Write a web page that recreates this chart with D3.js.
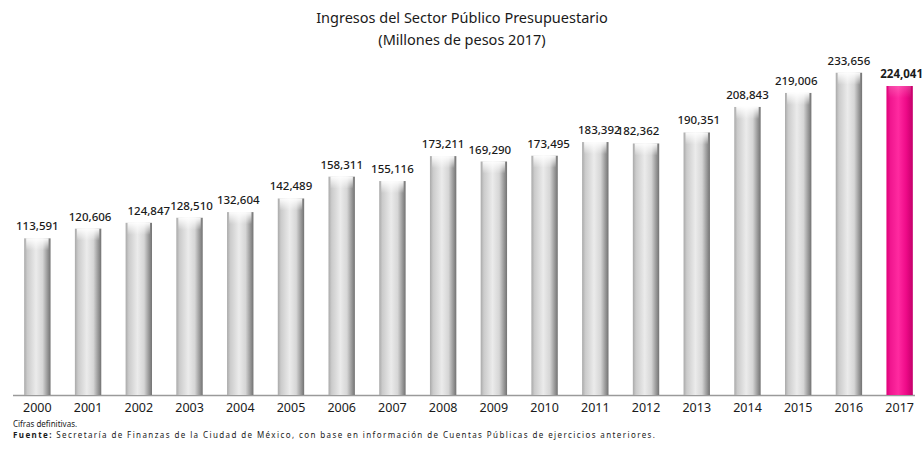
<!DOCTYPE html>
<html>
<head>
<meta charset="utf-8">
<script src="https://cdn.jsdelivr.net/npm/d3@7"></script>
<style>
  body { margin: 0; background: #fff; }
  text { font-family: "Noto Sans", Lato, sans-serif; }
</style>
</head>
<body>
<svg width="923" height="454"></svg>
<script>
var years = ["2000","2001","2002","2003","2004","2005","2006","2007","2008","2009","2010","2011","2012","2013","2014","2015","2016","2017"];
var ingresos = [113591,120606,124847,128510,132604,142489,158311,155116,173211,169290,173495,183392,182362,190351,208843,219006,233656,224041];
// small horizontal nudges of the value labels, as in the picture
var labelShift = [0,2,10,2,-2,0,0,0,0,-4,4,4,-8,2,0,-2,0,2];

var svg = d3.select("svg"),
    width = +svg.attr("width"),
    height = +svg.attr("height");

var baseY = 395;

var x = d3.scaleBand()
    .domain(years)
    .range([12, 925])
    .paddingInner(0.48)
    .paddingOuter(0.24);

var y = d3.scaleLinear()
    .domain([0, 224041])
    .range([baseY, 86]);

var defs = svg.append("defs");

function cylinder(id, stops) {
  var g = defs.append("linearGradient")
      .attr("id", id)
      .attr("x1", "0%").attr("x2", "100%")
      .attr("y1", "0%").attr("y2", "0%");
  stops.forEach(function(s) {
    g.append("stop").attr("offset", s[0]).attr("stop-color", s[1]);
  });
}
cylinder("grayBar", [["0%","#a9a9a9"],["12%","#cbcbcb"],["45%","#ebebeb"],["70%","#d6d6d6"],["86%","#a0a0a0"],["100%","#727272"]]);
cylinder("pinkBar", [["0%","#e0007a"],["15%","#f0168f"],["45%","#ff2aa0"],["75%","#ee0a88"],["100%","#c4006a"]]);

var cap = defs.append("linearGradient")
    .attr("id", "cap")
    .attr("x1", "0%").attr("x2", "0%")
    .attr("y1", "0%").attr("y2", "100%");
cap.append("stop").attr("offset", "0%").attr("stop-color", "#ffffff").attr("stop-opacity", 0.95);
cap.append("stop").attr("offset", "100%").attr("stop-color", "#ffffff").attr("stop-opacity", 0);

// title
svg.append("text")
    .attr("x", 462).attr("y", 23)
    .attr("text-anchor", "middle")
    .style("font-size", "14.5px")
    .style("fill", "#1a1a1a")
    .text("Ingresos del Sector Público Presupuestario");
svg.append("text")
    .attr("x", 462).attr("y", 45)
    .attr("text-anchor", "middle")
    .style("font-size", "14.5px")
    .style("fill", "#1a1a1a")
    .text("(Millones de pesos 2017)");

// baseline
svg.append("line")
    .attr("x1", 13).attr("x2", 915)
    .attr("y1", baseY + 0.5).attr("y2", baseY + 0.5)
    .attr("stroke", "#9a9a9a")
    .attr("stroke-width", 1.5);

var bars = svg.append("g").selectAll("g")
    .data(years)
    .enter().append("g");

bars.append("rect")
    .attr("x", function(d) { return x(d); })
    .attr("y", function(d, i) { return y(ingresos[i]); })
    .attr("width", x.bandwidth())
    .attr("height", function(d, i) { return baseY - y(ingresos[i]); })
    .attr("fill", function(d) { return d === "2017" ? "url(#pinkBar)" : "url(#grayBar)"; });

bars.append("rect")
    .attr("x", function(d) { return x(d) + 2; })
    .attr("y", function(d, i) { return y(ingresos[i]); })
    .attr("width", x.bandwidth() - 4)
    .attr("height", 12)
    .attr("fill", "url(#cap)")
    .attr("opacity", function(d) { return d === "2017" ? 0.2 : 1; });

// value labels
bars.append("text")
    .attr("x", function(d, i) { return x(d) + x.bandwidth() / 2 + labelShift[i]; })
    .attr("y", function(d, i) { return y(ingresos[i]) - 8; })
    .attr("text-anchor", "middle")
    .style("font-size", "11.5px")
    .style("font-weight", function(d) { return d === "2017" ? "bold" : "500"; })
    .style("fill", "#1a1a1a")
    .text(function(d, i) { return d3.format(",")(ingresos[i]); });

// year axis
var axis = svg.append("g")
    .attr("transform", "translate(0," + baseY + ")")
    .call(d3.axisBottom(x).tickSize(0).tickPadding(8));
axis.select(".domain").remove();
axis.selectAll("text")
    .style("font-family", "\"Noto Sans\", Lato, sans-serif")
    .style("font-size", "12.5px")
    .style("fill", "#1a1a1a");

// notes
svg.append("text")
    .attr("x", 13).attr("y", 427)
    .style("font-size", "8px")
    .style("fill", "#1a1a1a")
    .text("Cifras definitivas.");
var src = svg.append("text")
    .attr("x", 13).attr("y", 438)
    .style("font-size", "8px")
    .attr("textLength", 642)
    .attr("lengthAdjust", "spacing")
    .style("fill", "#1a1a1a");
src.append("tspan").style("font-weight", "bold").text("Fuente:");
src.append("tspan").text(" Secretaría de Finanzas de la Ciudad de México, con base en información de Cuentas Públicas de ejercicios anteriores.");
</script>
</body>
</html>
